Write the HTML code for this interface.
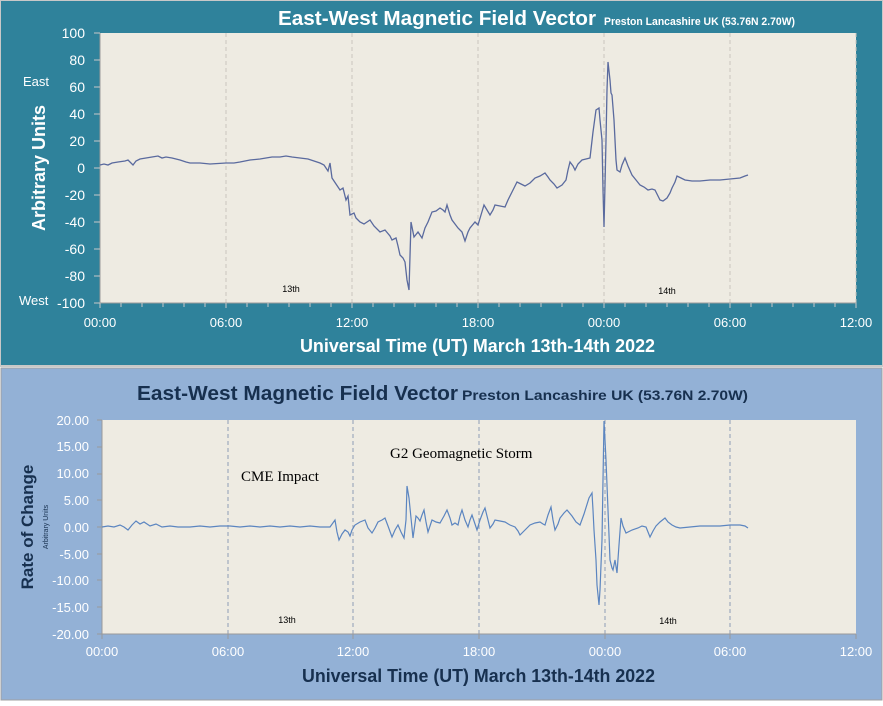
<!DOCTYPE html>
<html><head><meta charset="utf-8"><style>
body{margin:0;width:883px;height:701px;overflow:hidden;background:#fff;font-family:"Liberation Sans","DejaVu Sans",sans-serif}
</style></head><body>
<svg width="883" height="701" xmlns="http://www.w3.org/2000/svg" font-family="Liberation Sans, DejaVu Sans, sans-serif">
<rect x="0" y="0" width="883" height="366" fill="#2f829b" stroke="#c8c8c8" stroke-width="2"/>
<rect x="1" y="368" width="881" height="332" fill="#93b1d6" stroke="#a0a0a0" stroke-width="1"/>
<!-- top panel -->
<text x="278" y="25" fill="#fff" font-size="20" font-weight="bold" textLength="318" lengthAdjust="spacingAndGlyphs">East-West Magnetic Field Vector</text>
<text x="604" y="25" fill="#fff" font-size="11" font-weight="bold" textLength="191" lengthAdjust="spacingAndGlyphs">Preston Lancashire UK (53.76N 2.70W)</text>
<rect x="100" y="33" width="756" height="270" fill="#eeebe2"/>
<g stroke="#c9c6bf" stroke-dasharray="4,3" stroke-width="1">
<line x1="226" y1="33" x2="226" y2="303"/><line x1="352" y1="33" x2="352" y2="303"/><line x1="478" y1="33" x2="478" y2="303"/><line x1="604" y1="33" x2="604" y2="303"/><line x1="730" y1="33" x2="730" y2="303"/><line x1="856" y1="33" x2="856" y2="303"/>
</g>
<line x1="100" y1="33" x2="100" y2="303" stroke="#999"/>
<line x1="100" y1="303" x2="856" y2="303" stroke="#999"/>
<g stroke="#bbb" stroke-width="1" id="xt"></g>
<path stroke="#c8c8c8" d="M100 303v5M121 303v4M142 303v4M163 303v4M184 303v4M205 303v4M226 303v5M247 303v4M268 303v4M289 303v4M310 303v4M331 303v4M352 303v5M373 303v4M394 303v4M415 303v4M436 303v4M457 303v4M478 303v5M499 303v4M520 303v4M541 303v4M562 303v4M583 303v4M604 303v5M625 303v4M646 303v4M667 303v4M688 303v4M709 303v4M730 303v5M751 303v4M772 303v4M793 303v4M814 303v4M835 303v4M856 303v5M94 33h6M94 60h6M94 87h6M94 114h6M94 141h6M94 168h6M94 195h6M94 222h6M94 249h6M94 276h6M94 303h6"/>
<g fill="#fff" font-size="14" text-anchor="end">
<text x="85" y="38">100</text><text x="85" y="65">80</text><text x="85" y="92">60</text><text x="85" y="119">40</text><text x="85" y="146">20</text><text x="85" y="173">0</text><text x="85" y="200">-20</text><text x="85" y="227">-40</text><text x="85" y="254">-60</text><text x="85" y="281">-80</text><text x="85" y="308">-100</text>
</g>
<text x="23" y="86" fill="#fff" font-size="13">East</text>
<text x="19" y="305" fill="#fff" font-size="13">West</text>
<text transform="translate(45,168) rotate(-90)" fill="#fff" font-size="18" font-weight="bold" text-anchor="middle">Arbitrary Units</text>
<g fill="#fff" font-size="13" text-anchor="middle">
<text x="100" y="327">00:00</text><text x="226" y="327">06:00</text><text x="352" y="327">12:00</text><text x="478" y="327">18:00</text><text x="604" y="327">00:00</text><text x="730" y="327">06:00</text><text x="856" y="327">12:00</text>
</g>
<text x="300" y="352" fill="#fff" font-size="18" font-weight="bold" textLength="355" lengthAdjust="spacingAndGlyphs">Universal Time (UT) March 13th-14th 2022</text>
<text x="291" y="292" font-size="9" fill="#000" text-anchor="middle">13th</text>
<text x="667" y="294" font-size="9" fill="#000" text-anchor="middle">14th</text>
<polyline fill="none" stroke="#5a6a9e" stroke-width="1.3" points="100,165 104,164 108,165 112,163 118,162 125,161 128,160 133,165 136,161 140,159 146,158 152,157 158,156 162,158 166,157 172,158 180,160 186,162 190,163 200,163 210,164 226,163 234,163 240,162 250,160 260,159 266,158 272,157 280,157 286,156 292,157 300,158 308,159 314,161 320,163 324,165 328,171 330,163 332,178 336,184 340,190 343,188 346,200 348,196 350,215 354,213 356,218 360,222 364,224 370,220 374,226 380,232 385,230 390,236 392,240 396,238 398,246 400,255 403,258 405,262 407,280 409,290 411,222 414,237 418,232 422,238 425,228 428,222 432,212 436,211 440,208 443,210 445,212 447,205 450,215 452,220 455,224 458,228 462,232 465,241 468,232 470,228 475,222 478,225 481,215 484,205 487,210 490,215 493,210 495,205 500,206 505,207 508,200 512,192 515,186 517,182 521,184 525,186 530,183 535,178 540,176 545,173 548,177 550,180 554,184 557,188 562,185 566,180 568,170 570,162 573,166 575,170 578,164 582,160 586,159 590,158 593,132 596,110 599,108 600,120 602,140 603,190 604,227 605,185 606,140 607,90 608,62 610,80 611,93 612,95 614,120 616,160 617,170 620,172 622,165 625,158 628,166 632,175 636,180 640,185 644,187 648,190 652,189 655,190 658,196 660,200 663,201 667,198 670,193 672,188 675,182 677,176 681,178 685,180 692,181 700,181 710,180 720,180 730,179 740,178 745,176 748,175"/>
<!-- bottom panel -->
<text x="137" y="400" fill="#17304f" font-size="20" font-weight="bold" textLength="321" lengthAdjust="spacingAndGlyphs">East-West Magnetic Field Vector</text>
<text x="462" y="400" fill="#17304f" font-size="14" font-weight="bold" textLength="286" lengthAdjust="spacingAndGlyphs">Preston Lancashire UK (53.76N 2.70W)</text>
<rect x="102" y="420" width="754" height="214" fill="#eeebe2"/>
<g stroke="#8e9cb5" stroke-dasharray="4,3" stroke-width="1">
<line x1="228" y1="420" x2="228" y2="634"/><line x1="353" y1="420" x2="353" y2="634"/><line x1="479" y1="420" x2="479" y2="634"/><line x1="605" y1="420" x2="605" y2="634"/><line x1="730" y1="420" x2="730" y2="634"/>
</g>
<line x1="102" y1="420" x2="102" y2="634" stroke="#999"/>
<line x1="102" y1="634" x2="856" y2="634" stroke="#999"/>
<path stroke="#999" d="M102 634v5M228 634v5M353 634v5M479 634v5M605 634v5M730 634v5M856 634v5M97 420h5M97 447h5M97 474h5M97 500h5M97 527h5M97 554h5M97 580h5M97 607h5M97 634h5"/>
<g fill="#fff" font-size="13" text-anchor="end">
<text x="89" y="425">20.00</text><text x="89" y="451">15.00</text><text x="89" y="478">10.00</text><text x="89" y="505">5.00</text><text x="89" y="532">0.00</text><text x="89" y="559">-5.00</text><text x="89" y="585">-10.00</text><text x="89" y="612">-15.00</text><text x="89" y="639">-20.00</text>
</g>
<text transform="translate(33,527) rotate(-90)" fill="#17304f" font-size="17" font-weight="bold" text-anchor="middle">Rate of Change</text>
<text transform="translate(48,527) rotate(-90)" fill="#17304f" font-size="7" text-anchor="middle">Arbitrary Units</text>
<g fill="#fff" font-size="13" text-anchor="middle">
<text x="102" y="656">00:00</text><text x="228" y="656">06:00</text><text x="353" y="656">12:00</text><text x="479" y="656">18:00</text><text x="605" y="656">00:00</text><text x="730" y="656">06:00</text><text x="856" y="656">12:00</text>
</g>
<text x="302" y="682" fill="#17304f" font-size="18" font-weight="bold" textLength="353" lengthAdjust="spacingAndGlyphs">Universal Time (UT) March 13th-14th 2022</text>
<text x="241" y="481" font-family="Liberation Serif, serif" font-size="15" fill="#000">CME Impact</text>
<text x="390" y="458" font-family="Liberation Serif, serif" font-size="15" fill="#000">G2 Geomagnetic Storm</text>
<text x="287" y="623" font-size="9" fill="#000" text-anchor="middle">13th</text>
<text x="668" y="624" font-size="9" fill="#000" text-anchor="middle">14th</text>
<polyline fill="none" stroke="#5b85c0" stroke-width="1.2" points="102,527 108,526 114,527 120,525 124,527 128,530 132,525 136,521 140,524 144,522 150,526 156,524 162,527 170,526 178,527 190,527 200,526 210,527 220,526 230,526 240,527 250,526 260,527 270,526 280,527 290,526 300,527 310,526 320,527 330,527 335,520 337,532 339,540 342,534 345,530 348,532 350,536 352,530 355,525 360,522 365,520 368,528 372,533 375,528 378,522 382,520 385,518 388,526 392,537 395,530 398,525 401,532 404,538 406,520 407,486 409,498 411,518 413,538 416,516 418,518 420,521 422,515 424,510 426,522 428,532 430,526 432,520 436,522 440,523 444,516 447,510 450,518 452,525 455,523 458,525 460,516 462,510 465,520 468,527 470,520 472,515 475,524 477,530 480,520 483,512 485,508 488,520 490,528 493,524 495,520 500,521 505,522 510,525 515,527 518,531 520,535 525,530 530,525 535,523 540,522 543,524 545,525 548,515 551,507 553,520 555,530 558,524 560,518 564,513 567,510 572,516 576,522 580,525 584,514 589,498 592,493 593,510 594,530 596,560 597,585 599,605 600,590 602,540 603,480 604,421 605,440 606,460 608,510 610,560 612,568 613,570 615,560 617,573 619,545 621,518 623,526 626,533 632,530 638,528 642,526 646,527 650,537 653,531 656,526 660,522 665,518 668,522 672,525 676,527 680,528 690,527 700,526 710,526 720,526 730,525 740,525 745,526 748,528"/>
</svg>
</body></html>
